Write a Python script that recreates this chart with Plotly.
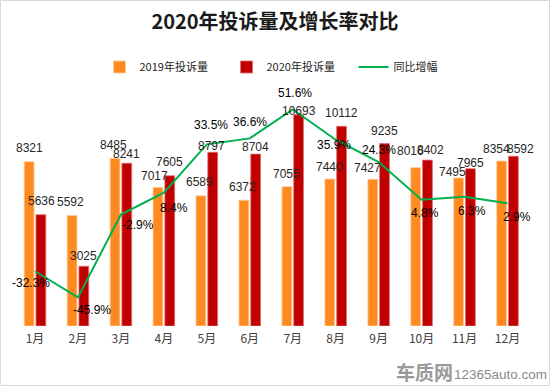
import plotly.graph_objects as go

months = ["1月", "2月", "3月", "4月", "5月", "6月", "7月", "8月", "9月", "10月", "11月", "12月"]
complaints_2019 = [8321, 5592, 8485, 7017, 6589, 6372, 7055, 7440, 7427, 8016, 7495, 8354]
complaints_2020 = [5636, 3025, 8241, 7605, 8797, 8704, 10693, 10112, 9235, 8402, 7965, 8592]
growth_pct = [-32.3, -45.9, -2.9, 8.4, 33.5, 36.6, 51.6, 35.9, 24.3, 4.8, 6.3, 2.9]

# label pixel offsets (style only)
gap19 = [10, 10, 9, 7, 10, 9, 9, 8, 7, 13, 2, 8]
dx19 = [0, -1, -1, -3, -1, -1, 0, 0, -5, -5, -6, -5]
gap20 = [10, 6, 5, 10, 2, 3, 0, 9, 9, 6, 2, 3]
dx20 = [0, 0, 0, 0, -1, 0, 0, 0, 0, 3, 0, 7]
pdx = [-4, 14, 17, 10, 4, 0, 2, -2, 0, 3, 7, 9]
pdy = [12, 13, 10, 15, -19, -16, -16, 5, -12, 13, 14, 14]

ORANGE = "#FF8A1F"
RED = "#C00000"
GREEN = "#00B050"
FONT = "Microsoft YaHei, 'Noto Sans CJK SC', sans-serif"
NUMFONT = "'Liberation Sans', 'Noto Sans CJK SC', sans-serif"

W, H = 550, 386
ML, MR, MT, MB = 10, 14, 89, 60
PW, PH = W - ML - MR, H - MT - MB

fig = go.Figure()
fig.add_trace(go.Bar(x=months, y=complaints_2019, name="2019年投诉量",
                     marker=dict(color=ORANGE, line=dict(color="#FFC99A", width=0.8))))
fig.add_trace(go.Bar(x=months, y=complaints_2020, name="2020年投诉量",
                     marker=dict(color=RED, line=dict(color="#E07070", width=0.8))))
fig.add_trace(go.Scatter(x=months, y=growth_pct, name="同比增幅", yaxis="y2",
                         mode="lines", line=dict(color=GREEN, width=2)))

ann = []
for i, m in enumerate(months):
    ann.append(dict(x=m, y=complaints_2019[i], xref="x", yref="y", text=str(complaints_2019[i]),
                    showarrow=False, xshift=-6 + dx19[i], yshift=gap19[i] + 4, yanchor="middle",
                    font=dict(size=12, color="#262626", family=NUMFONT)))
    ann.append(dict(x=m, y=complaints_2020[i], xref="x", yref="y", text=str(complaints_2020[i]),
                    showarrow=False, xshift=6 + dx20[i], yshift=gap20[i] + 4, yanchor="middle",
                    font=dict(size=12, color="#262626", family=NUMFONT)))
    ann.append(dict(x=m, y=growth_pct[i], xref="x", yref="y2", text=f"{growth_pct[i]}%",
                    showarrow=False, xshift=pdx[i], yshift=-pdy[i], yanchor="middle",
                    font=dict(size=12, color="#000000", family=NUMFONT)))

def px(x):
    return (x - ML) / PW

def py(y):
    return (H - MB - y) / PH

ann.append(dict(x=px(424), y=py(371), xref="paper", yref="paper", text="<b>车质网</b>",
                showarrow=False, xanchor="center", yanchor="middle",
                font=dict(size=19, color="#9a9a9a", family=FONT)))
ann.append(dict(x=px(500), y=py(374), xref="paper", yref="paper", text="12365auto.com",
                showarrow=False, xanchor="center", yanchor="middle",
                font=dict(size=13.5, color="#8a8a8a", family=NUMFONT)))

fig.update_layout(
    width=W, height=H,
    margin=dict(l=ML, r=MR, t=MT, b=MB, autoexpand=False),
    paper_bgcolor="white", plot_bgcolor="white",
    title=dict(text="<b>2020年投诉量及增长率对比</b>", x=0.5, xanchor="center",
               y=1 - 22 / H, yanchor="middle", yref="container",
               font=dict(size=20, color="#1a1a1a", family=FONT)),
    barmode="group", bargap=0.452, bargroupgap=0.167,
    showlegend=True,
    legend=dict(orientation="h", x=0.5 + 17 / PW, xanchor="center", y=py(67), yanchor="middle",
                font=dict(size=11, color="#262626", family=FONT), entrywidth=82,
                bgcolor="rgba(0,0,0,0)"),
    xaxis=dict(showgrid=False, showline=False, zeroline=False, ticks="",
               ticklabelstandoff=4,
               tickfont=dict(size=12, color="#404040", family=FONT)),
    yaxis=dict(range=[0, 12000], visible=False, showgrid=False),
    yaxis2=dict(range=[-60.7, 62.2], overlaying="y", visible=False, showgrid=False),
    annotations=ann,
    shapes=[dict(type="rect", xref="paper", yref="paper",
                 x0=px(0.5), x1=px(549.5), y0=py(385.5), y1=py(0.5),
                 line=dict(color="#d9d9d9", width=1), layer="below")],
)

fig.write_html("out.html", config={"displayModeBar": False},
               post_script="document.body.style.margin='0';document.body.style.overflow='hidden';")
